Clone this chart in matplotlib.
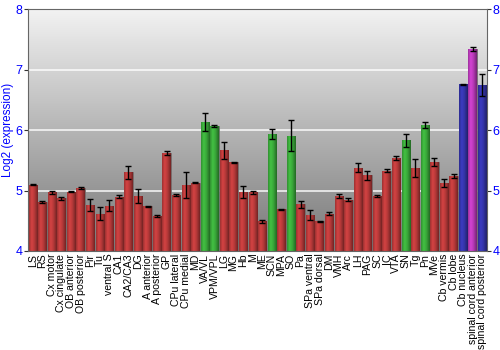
import numpy as np
import matplotlib
matplotlib.use("Agg")
import matplotlib.pyplot as plt
from matplotlib.colors import to_rgb

regions = ["LS", "RS", "Cx motor", "Cx cingulate", "OB anterior", "OB posterior", "Pir", "Tu",
           "ventral S", "CA1", "CA2/CA3", "DG", "A anterior", "A posterior", "GP", "CPu lateral",
           "CPu medial", "MD", "VA/VL", "VPM/VPL", "LG", "MG", "Hb", "M", "ME", "SCN", "MPA", "SO",
           "Pa", "SPa ventral", "SPa dorsal", "DM", "VMH", "Arc", "LH", "PAG", "SC", "IC", "VTA",
           "SN", "Tg", "Pn", "MVe", "Cb vermis", "Cb lobe", "Cb nucleus", "spinal cord anterior",
           "spinal cord posterior"]
values = [5.10, 4.81, 4.97, 4.87, 4.98, 5.04, 4.76, 4.62, 4.75, 4.90, 5.30, 4.91, 4.74, 4.58,
          5.62, 4.93, 5.09, 5.13, 6.14, 6.07, 5.67, 5.47, 4.98, 4.97, 4.49, 5.94, 4.69, 5.91,
          4.77, 4.59, 4.49, 4.62, 4.91, 4.85, 5.38, 5.25, 4.91, 5.33, 5.54, 5.83, 5.38, 6.09,
          5.47, 5.13, 5.24, 6.76, 7.34, 6.75]
errors = [0.01, 0.02, 0.03, 0.02, 0.01, 0.02, 0.10, 0.10, 0.09, 0.02, 0.11, 0.12, 0.01, 0.01,
          0.03, 0.02, 0.21, 0.01, 0.15, 0.02, 0.14, 0.01, 0.10, 0.03, 0.03, 0.08, 0.01, 0.26,
          0.06, 0.08, 0.01, 0.02, 0.03, 0.02, 0.07, 0.07, 0.02, 0.03, 0.04, 0.11, 0.15, 0.05,
          0.07, 0.07, 0.03, 0.01, 0.03, 0.18]
groups = ["r"] * 18 + ["g", "g"] + ["r"] * 5 + ["g", "r", "g"] + ["r"] * 11 + ["g", "r", "g"] + \
         ["r"] * 3 + ["b", "m", "b"]
yticks = [4, 5, 6, 7, 8]

base_colors = {"r": "#b83a3a", "g": "#3aa83a", "b": "#3434a8", "m": "#b83ab8"}

plt.rcParams['font.family'] = ['Liberation Sans', 'DejaVu Sans']
fig = plt.figure(figsize=(5, 3.5), dpi=100)
ax = fig.add_axes([0.056, 0.283, 0.918, 0.69])
ax.set_xlim(-0.5, len(values) - 0.5)
ax.set_ylim(4, 8)

# background gradient
bg = np.linspace(0.47, 0.95, 256).reshape(-1, 1)
ax.imshow(np.dstack([bg, bg, bg]), extent=(-0.5, len(values) - 0.5, 4, 8), origin="lower",
          aspect="auto", zorder=0)
for y in [5, 6, 7]:
    ax.axhline(y, color="white", lw=1.2, alpha=0.85, zorder=1)

x = np.arange(len(values))
bars = ax.bar(x, np.array(values) - 4, bottom=4, width=0.88,
              color=[base_colors[g] for g in groups], edgecolor="#707070", linewidth=0.6, zorder=2)

# horizontal shading on each bar
t = np.linspace(0, 1, 64)
shade = np.interp(t, [0, 0.3, 0.6, 1.0], [0.85, 1.15, 1.0, 0.62])
for b, g in zip(bars, groups):
    c = np.array(to_rgb(base_colors[g]))
    img = np.clip(c[None, :] * shade[:, None], 0, 1)[None, :, :]
    x0 = b.get_x(); w = b.get_width()
    im = ax.imshow(img, extent=(x0, x0 + w, 4, 4 + b.get_height()), aspect="auto", zorder=2.5)
    im.set_clip_path(b)

ax.errorbar(x, values, yerr=errors, fmt="none", ecolor="black", elinewidth=1, capsize=2.2,
            capthick=1, zorder=4)

ax.set_xticks(x)
ax.set_xticklabels(regions, rotation=90, fontsize=7.6)
ax.tick_params(axis="x", length=0, pad=2)
ax.set_yticks(yticks)
ax.tick_params(axis="y", colors="#333333", labelcolor="blue", labelsize=9, length=3,
               right=True, labelright=True, pad=1)
ax.set_ylabel("Log2 (expression)", color="blue", fontsize=8.5, labelpad=1)
for s in ax.spines.values():
    s.set_color("#666666")

fig.savefig("out.png", dpi=100)
